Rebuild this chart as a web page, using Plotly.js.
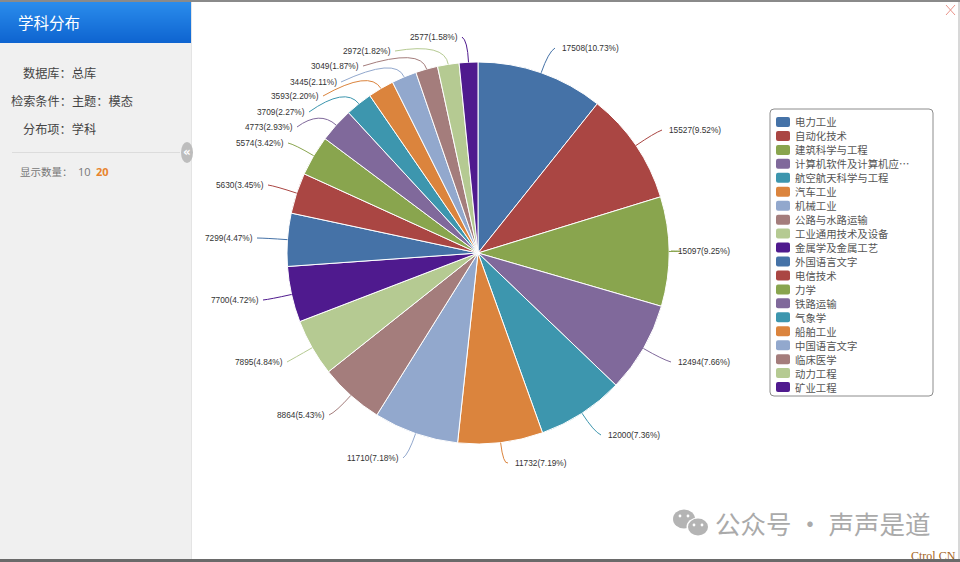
<!DOCTYPE html>
<html><head><meta charset="utf-8">
<script src="https://cdn.plot.ly/plotly-3.0.1.min.js"></script>
<style>html,body{margin:0;padding:0;background:#fff;overflow:hidden}#c{width:960px;height:562px;position:absolute;left:0;top:0}
#s{position:absolute;left:0;top:559px;width:960px;height:3px;background:#6a6a6a}</style>
</head><body><div id="c"></div><div id="s"></div>
<script>
// ---------- data ----------
var subjects = ["电力工业","自动化技术","建筑科学与工程","计算机软件及计算机应用","航空航天科学与工程","汽车工业","机械工业","公路与水路运输","工业通用技术及设备","金属学及金属工艺","外国语言文字","电信技术","力学","铁路运输","气象学","船舶工业","中国语言文字","临床医学","动力工程","矿业工程"];
var legendLabels = ["电力工业","自动化技术","建筑科学与工程","计算机软件及计算机应…","航空航天科学与工程","汽车工业","机械工业","公路与水路运输","工业通用技术及设备","金属学及金属工艺","外国语言文字","电信技术","力学","铁路运输","气象学","船舶工业","中国语言文字","临床医学","动力工程","矿业工程"];
var counts = [17508,15527,15097,12494,12000,11732,11710,8864,7895,7700,7299,5630,5574,4773,3709,3593,3445,3049,2972,2577];
var palette = ["#4572A7","#AA4643","#89A54E","#80699B","#3D96AE","#DB843D","#92A8CD","#A47D7C","#B5CA92","#4F1A8E"];

// ---------- label placement (page pixels of each leader's outer end) ----------
var labelEndX = [555,662,671,671,601,508,403,329,287,263,257,268,288,297,309,323,341,363,395,462];
var labelEndY = [48,130,251,362,435,463,458,415,362,300,238,185,143,127,112,96,82,66,51,37];

// ---------- page geometry ----------
var W = 960, H = 562, CX = 478, CY = 253, R = 191, ELBOW = 22;
function px(x){ return x / W; }
function py(y){ return 1 - y / H; }
var colors = counts.map(function(_, i){ return palette[i % palette.length]; });
var total = counts.reduce(function(a, b){ return a + b; }, 0);

var shapes = [], annotations = [];
function rect(x0, y0, x1, y1, fill){
  shapes.push({type:"rect", xref:"paper", yref:"paper", x0:px(x0), x1:px(x1), y0:py(y0), y1:py(y1), fillcolor:fill, line:{width:0}, layer:"below"});
}
function rrectPath(x0, y0, x1, y1, r){
  return "M"+px(x0+r)+" "+py(y0)+" L"+px(x1-r)+" "+py(y0)+" Q"+px(x1)+" "+py(y0)+" "+px(x1)+" "+py(y0+r)+
    " L"+px(x1)+" "+py(y1-r)+" Q"+px(x1)+" "+py(y1)+" "+px(x1-r)+" "+py(y1)+
    " L"+px(x0+r)+" "+py(y1)+" Q"+px(x0)+" "+py(y1)+" "+px(x0)+" "+py(y1-r)+
    " L"+px(x0)+" "+py(y0+r)+" Q"+px(x0)+" "+py(y0)+" "+px(x0+r)+" "+py(y0)+" Z";
}
function text(x, y, t, size, color, anchor, family, weight){
  annotations.push({xref:"paper", yref:"paper", x:px(x), y:py(y), xanchor:anchor||"left", yanchor:"middle", showarrow:false,
    text:weight?"<b>"+t+"</b>":t, borderpad:0, font:{size:size, color:color, family:family||"Noto Sans CJK SC"}});
}

// sidebar
rect(0, 0, 960, 2, "#8a8a8a");
rect(0, 2, 191, 559, "#f0f0f0");
rect(191, 2, 192, 559, "#e4e4e4");
var gradientTop = [42,140,236], gradientBottom = [14,100,208];
for (var g = 0; g < 41; g++){
  var t = g / 40, c = gradientTop.map(function(v, k){ return Math.round(v + (gradientBottom[k] - v) * t); });
  rect(0, 2 + g, 191, 3 + g, "rgb(" + c.join(",") + ")");
}
text(17, 22, "学科分布", 15.5, "#ffffff");
text(22, 73, "数据库：总库", 12.2, "#444444");
text(10, 101, "检索条件：主题：模态", 12.2, "#444444");
text(22, 129, "分布项：学科", 12.2, "#444444");
rect(12, 152, 180, 153, "#dcdcdc");
text(19, 171, "显示数量：", 10.5, "#777777");
text(77, 171, "10", 11, "#777777", "left", "Open Sans");
text(95, 171, "20", 11, "#e8842c", "left", "Open Sans", true);
shapes.push({type:"circle", xref:"paper", yref:"paper", x0:px(181), x1:px(193), y0:py(142), y1:py(163), fillcolor:"#bdbdbd", line:{width:0}});
text(187, 151.5, "«", 12, "#ffffff", "center", "DejaVu Sans", true);

// close mark
[[946,5,955,15],[955,5,946,15]].forEach(function(s){
  shapes.push({type:"line", xref:"paper", yref:"paper", x0:px(s[0]), y0:py(s[1]), x1:px(s[2]), y1:py(s[3]), line:{color:"#e8938a", width:1}});
});
rect(958, 2, 960, 559, "#d8d8d8");

// leader lines and labels, angles derived from the values
var cum = 0;
counts.forEach(function(v, i){
  var share = v / total, a = (cum + share / 2) * 2 * Math.PI;
  cum += share;
  var dx = Math.sin(a), dy = -Math.cos(a);
  var ex = CX + R * dx, ey = CY + R * dy;
  var cx = CX + (R + ELBOW) * dx, cy = CY + (R + ELBOW) * dy;
  var lx = labelEndX[i], ly = labelEndY[i], right = dx > 0;
  shapes.push({type:"path", xref:"paper", yref:"paper", line:{color:colors[i], width:1},
    path:"M"+px(ex)+" "+py(ey)+" Q"+px(cx)+" "+py(cy)+" "+px(lx)+" "+py(ly)});
  text(lx + (right ? 6 : -3), ly, v + "(" + (share * 100).toFixed(2) + "%)", 8.3, "#333333", right ? "left" : "right", "Liberation Sans");
});

// legend
shapes.push({type:"path", xref:"paper", yref:"paper", path:rrectPath(770, 109, 933, 396, 4), line:{color:"#8c8c8c", width:1}, fillcolor:"rgba(255,255,255,0)"});
legendLabels.forEach(function(l, i){
  var y = 122 + i * 13.95;
  shapes.push({type:"path", xref:"paper", yref:"paper", path:rrectPath(776, y-5, 790, y+5, 2), fillcolor:colors[i], line:{width:0}});
  text(794, y, l, 10.4, "#555555");
});

// watermark
function blob(x, y, rx, ry, fill){
  shapes.push({type:"circle", xref:"paper", yref:"paper", x0:px(x-rx), x1:px(x+rx), y0:py(y-ry), y1:py(y+ry), fillcolor:fill, line:{width:0}});
}
blob(684, 519, 11, 9.5, "#b4b4b4");
blob(698, 527, 11.5, 9.5, "#ffffff");
blob(698, 527, 10, 8.5, "#b4b4b4");
[[680,516],[688,516],[694,525],[702,525]].forEach(function(e){ blob(e[0], e[1], 1.4, 1.4, "#ffffff"); });
text(714, 522, "公众号 · 声声是道", 25.5, "#aaaaaa");
text(910, 556, "Ctrol CN", 12, "#a5651c", "left", "Liberation Serif");

Plotly.newPlot("c", [{
  type:"pie", labels:subjects, values:counts, sort:false, direction:"clockwise", rotation:0,
  textinfo:"none", hoverinfo:"label+value+percent", showlegend:false,
  marker:{colors:colors, line:{color:"#ffffff", width:1}},
  domain:{x:[px(CX-R), px(CX+R)], y:[py(CY+R), py(CY-R)]}
}], {
  width:W, height:H, margin:{l:0,r:0,t:0,b:0,pad:0}, paper_bgcolor:"#ffffff", showlegend:false,
  shapes:shapes, annotations:annotations
}, {displayModeBar:false, staticPlot:true});
</script></body></html>
